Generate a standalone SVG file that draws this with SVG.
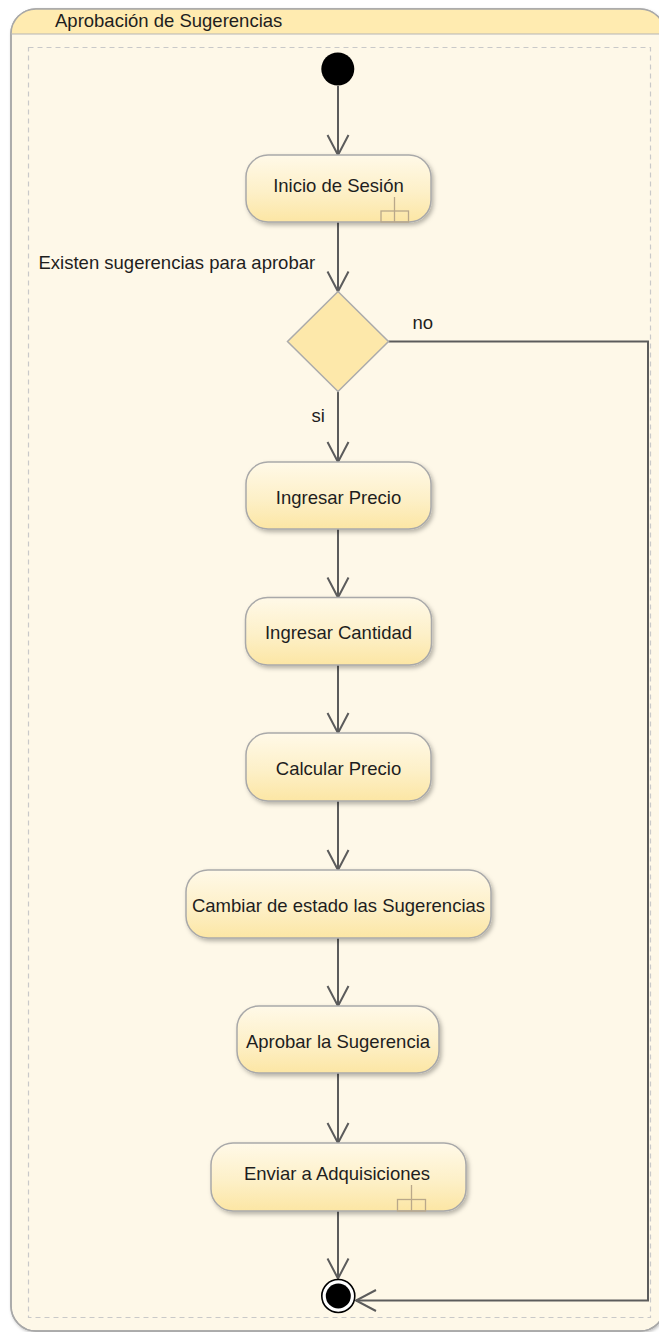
<svg xmlns="http://www.w3.org/2000/svg" width="659" height="1332" viewBox="0 0 659 1332">
<style>
text{font-family:"Liberation Sans",Arial,sans-serif;font-size:18.5px;fill:#1e1e1e}
.act{fill:url(#ng);stroke:#a9a9a9;stroke-width:1.5;filter:url(#sh)}
.rake{fill:none;stroke:#b9a88a;stroke-width:1.3}
.edge{fill:none;stroke:#5c5c5c;stroke-width:2;marker-end:url(#arr)}
.mid{text-anchor:middle}
</style>
<defs>
<linearGradient id="ng" x1="0" y1="0" x2="0" y2="1">
<stop offset="0" stop-color="#fff9e8"/>
<stop offset="0.55" stop-color="#fdf0c8"/>
<stop offset="1" stop-color="#fce6a4"/>
</linearGradient>
<filter id="sh" x="-10%" y="-20%" width="130%" height="150%">
<feDropShadow dx="2" dy="2.5" stdDeviation="2" flood-color="#000" flood-opacity="0.28"/>
</filter>
<filter id="fsh" x="-5%" y="-5%" width="110%" height="110%">
<feDropShadow dx="1" dy="1.5" stdDeviation="1.5" flood-color="#000" flood-opacity="0.25"/>
</filter>
<clipPath id="fc"><rect x="11" y="9" width="654" height="1322" rx="25"/></clipPath>
<marker id="arr" viewBox="-23 -13 26 26" refX="0" refY="0" markerWidth="26" markerHeight="26" markerUnits="userSpaceOnUse" orient="auto">
<path d="M-20,-10.5 L0,0 L-20,10.5" fill="none" stroke="#5c5c5c" stroke-width="2"/>
</marker>
</defs>

<g id="frame">
<rect x="11" y="9" width="654" height="1322" rx="25" fill="#fef8e8" stroke="#a8a8a8" stroke-width="1.5" filter="url(#fsh)"/>
<rect x="11" y="9" width="654" height="25" fill="#ffebb0" clip-path="url(#fc)"/>
<rect x="11" y="9" width="654" height="1322" rx="25" fill="none" stroke="#a8a8a8" stroke-width="1.5"/>
<line x1="11" y1="34" x2="665" y2="34" stroke="#b5b5b5" stroke-width="1.2"/>
<text x="55" y="27">Aprobación de Sugerencias</text>
<rect x="28.5" y="47.5" width="622" height="1270" fill="none" stroke="#c9c9c9" stroke-width="1.2" stroke-dasharray="5,4"/>
</g>

<g id="connectors">
<path class="edge" d="M338,86 V155"/>
<path class="edge" d="M338,222 V291.5"/>
<path class="edge" d="M338,391.5 V462"/>
<path class="edge" d="M338,529 V597.5"/>
<path class="edge" d="M338,665 V733"/>
<path class="edge" d="M338,801 V870"/>
<path class="edge" d="M338,938 V1006"/>
<path class="edge" d="M338,1073 V1143"/>
<path class="edge" d="M338,1211 V1278.5"/>
<path class="edge" d="M388.5,341.5 H648 V1300.5 H356"/>
<text x="38.5" y="269">Existen sugerencias para aprobar</text>
<text x="412.5" y="329">no</text>
<text x="311.5" y="421.5">si</text>
</g>

<g id="start">
<circle cx="337.8" cy="69" r="16.5" fill="#000"/>
</g>

<g id="inicio">
<rect class="act" x="246" y="155" width="185" height="67" rx="22"/>
<text class="mid" x="338.5" y="191.5">Inicio de Sesión</text>
<rect class="rake" x="381" y="211" width="27.5" height="11"/>
<line class="rake" x1="394.5" y1="197" x2="394.5" y2="222"/>
</g>

<g id="decision">
<polygon points="338,291.5 388.5,341.5 338,391.5 287.5,341.5" fill="#fde8aa" stroke="#ababab" stroke-width="1.5"/>
</g>

<g id="ingresar-precio">
<rect class="act" x="246" y="462" width="185" height="67" rx="22"/>
<text class="mid" x="338.5" y="503.5">Ingresar Precio</text>
</g>

<g id="ingresar-cantidad">
<rect class="act" x="245.5" y="597.5" width="186" height="67.5" rx="22"/>
<text class="mid" x="338.5" y="639">Ingresar Cantidad</text>
</g>

<g id="calcular-precio">
<rect class="act" x="246" y="733" width="185" height="68" rx="22"/>
<text class="mid" x="338.5" y="775">Calcular Precio</text>
</g>

<g id="cambiar-estado">
<rect class="act" x="186" y="870" width="305" height="68" rx="22"/>
<text class="mid" x="338.5" y="912">Cambiar de estado las Sugerencias</text>
</g>

<g id="aprobar">
<rect class="act" x="237" y="1006" width="202" height="67" rx="22"/>
<text class="mid" x="338" y="1048">Aprobar la Sugerencia</text>
</g>

<g id="enviar">
<rect class="act" x="211" y="1143" width="255" height="68" rx="22"/>
<text class="mid" x="337" y="1180">Enviar a Adquisiciones</text>
<rect class="rake" x="397.5" y="1199.5" width="28" height="11.5"/>
<line class="rake" x1="411.5" y1="1185" x2="411.5" y2="1211"/>
</g>

<g id="end">
<circle cx="338.3" cy="1296" r="16.5" fill="#fff" stroke="#000" stroke-width="1.6"/>
<circle cx="338.3" cy="1296" r="12.5" fill="#000"/>
</g>
</svg>
